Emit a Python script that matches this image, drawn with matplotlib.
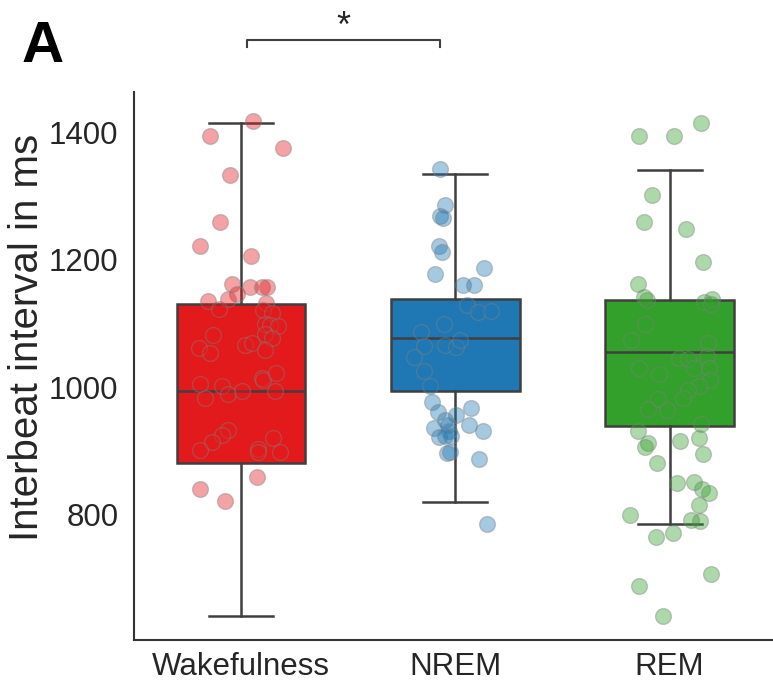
import matplotlib.pyplot as plt
import numpy as np

plt.rcParams["font.family"] = ["Liberation Sans", "DejaVu Sans"]

categories = ["Wakefulness", "NREM", "REM"]
colors = ["#e31a1c", "#1f78b4", "#33a02c"]

# box statistics (ms)
whislo = [641, 821, 786]
q1 = [882, 994, 940]
med = [994, 1077, 1056]
q3 = [1130, 1138, 1137]
whishi = [1415, 1334, 1341]

# individual interbeat intervals (ms) and their horizontal jitter
wake_ibi = [1418, 1394, 1375, 1333, 1259, 1221, 1206, 1162, 1147, 1157, 1157, 1157,
            1136, 1139, 1132, 1123, 1121, 1116, 1100, 1098, 1096, 1082, 1084, 1077,
            1061, 1054, 1066, 1069, 1058, 1006, 1002, 990, 995, 1014, 1011, 1022, 995,
            984, 933, 925, 915, 902, 904, 899, 920, 898, 859, 840, 822]
wake_jit = [0.057, -0.143, 0.197, -0.050, -0.097, -0.193, 0.045, -0.043, -0.020, 0.042,
            0.097, 0.120, -0.152, -0.059, 0.115, -0.101, 0.104, 0.143, 0.112, 0.135,
            0.174, -0.129, 0.112, 0.143, -0.194, -0.145, 0.019, 0.050, 0.112, -0.191,
            -0.090, -0.059, 0.003, 0.097, 0.104, 0.163, 0.159, -0.168, -0.059, -0.090,
            -0.137, -0.191, 0.081, 0.081, 0.151, 0.182, 0.076, -0.193, -0.075]

nrem_ibi = [1342, 1286, 1268, 1266, 1221, 1212, 1178, 1187, 1161, 1161, 1129, 1118,
            1120, 1100, 1087, 1065, 1066, 1064, 1074, 1047, 1026, 1002, 977, 962, 957,
            967, 949, 941, 936, 941, 932, 922, 932, 923, 924, 897, 898, 887, 786]
nrem_jit = [-0.073, -0.050, -0.070, -0.057, -0.078, -0.061, -0.095, 0.132, 0.034, 0.085,
            0.053, 0.106, 0.165, -0.053, -0.162, -0.146, -0.050, 0.005, 0.023, -0.194,
            -0.146, -0.117, -0.110, -0.081, 0.005, 0.071, -0.047, -0.034, -0.099, 0.062,
            0.129, -0.078, -0.031, -0.019, -0.050, -0.037, -0.027, 0.110, 0.146]

rem_ibi = [1394, 1394, 1415, 1302, 1259, 1248, 1197, 1162, 1142, 1137, 1134, 1139,
           1130, 1100, 1075, 1069, 1046, 1044, 1049, 1030, 1021, 1031, 1031, 1011, 1002,
           996, 984, 981, 966, 964, 943, 932, 913, 907, 916, 921, 896, 881, 850, 852,
           840, 835, 816, 800, 792, 790, 771, 765, 707, 688, 642]
rem_jit = [-0.143, 0.019, 0.148, -0.081, -0.120, 0.078, 0.155, -0.148, -0.118, -0.106,
           0.162, 0.197, 0.193, -0.113, -0.180, 0.177, 0.045, 0.084, 0.172, -0.141,
           -0.051, 0.115, 0.182, 0.188, 0.135, 0.084, 0.061, -0.056, -0.103, -0.013,
           0.146, -0.146, -0.103, -0.113, 0.048, 0.135, 0.157, -0.057, 0.034, 0.115,
           0.151, 0.182, 0.138, -0.185, 0.099, 0.141, 0.014, -0.065, 0.194, -0.145,
           -0.033]

points = [(wake_ibi, wake_jit), (nrem_ibi, nrem_jit), (rem_ibi, rem_jit)]

fig = plt.figure(figsize=(7.73, 6.85), dpi=100)
ax = fig.add_axes([0.173, 0.0657, 0.832, 0.80])

stats = []
for i in range(len(categories)):
    stats.append(dict(whislo=whislo[i], q1=q1[i], med=med[i], q3=q3[i],
                      whishi=whishi[i], label=categories[i]))

edge = "#3f3f3f"
bp = ax.bxp(stats, positions=range(len(categories)), widths=0.6, patch_artist=True,
            showfliers=False,
            boxprops=dict(edgecolor=edge, linewidth=1.8),
            whiskerprops=dict(color=edge, linewidth=1.8),
            capprops=dict(color=edge, linewidth=1.8),
            medianprops=dict(color=edge, linewidth=1.8))
for patch, c in zip(bp["boxes"], colors):
    patch.set_facecolor(c)

for i, (vals, jit) in enumerate(points):
    x = i + np.array(jit)
    ax.scatter(x, vals, s=130, color=colors[i], alpha=0.4, edgecolor="gray",
               linewidth=1, zorder=5)

ax.set_xlim(-0.5, 2.5)
ax.set_ylim(604, 1463)
ax.set_yticks([800, 1000, 1200, 1400])
ax.set_xticks(range(len(categories)))
ax.set_xticklabels(categories)
ax.tick_params(length=0, labelsize=22.5, labelcolor="#262626")
ax.tick_params(axis="x", pad=9)
ax.tick_params(axis="y", pad=11)
ax.set_ylabel("Interbeat interval in ms", fontsize=29, color="#262626")
ax.yaxis.set_label_coords(-0.137, 0.553)
for s in ["top", "right"]:
    ax.spines[s].set_visible(False)
for s in ["left", "bottom"]:
    ax.spines[s].set_color("#333333")
    ax.spines[s].set_linewidth(1.5)

# significance bracket
ax.plot([0.03, 0.03, 0.93, 0.93], [1533, 1544, 1544, 1533], color=edge,
        linewidth=1.5, clip_on=False)
ax.text(0.48, 1550, "*", ha="center", va="baseline", fontsize=26, color="#262626")

fig.text(0.028, 0.91, "A", fontsize=42, fontweight="bold", ha="left", va="baseline")

fig.savefig("out.png", dpi=100)
